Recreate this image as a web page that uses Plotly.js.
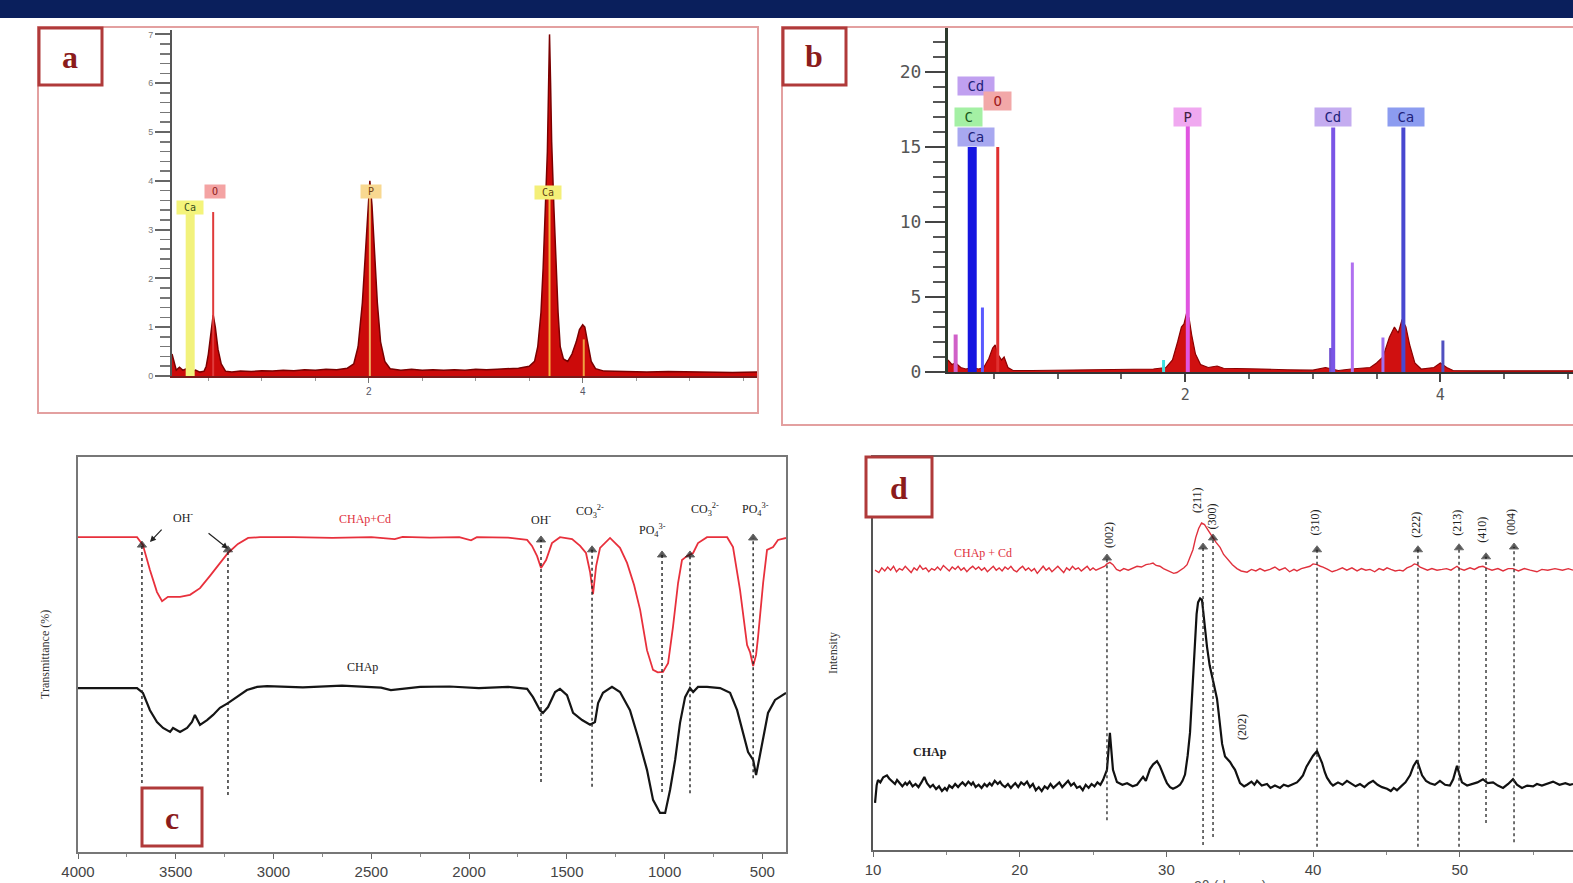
<!DOCTYPE html>
<html><head><meta charset="utf-8">
<script src="https://cdn.plot.ly/plotly-3.0.1.min.js"></script>
<style>html,body{margin:0;padding:0;background:#fff;overflow:hidden}#chart{width:1573px;height:883px}</style>
</head><body><div id="chart"></div>
<script>
const W=1573,H=883;
const fx=p=>p/W, fy=p=>1-p/H;

// ---------- Panel a : EDX of CHAp ----------
const aEnergy=[0.16,0.18,0.20,0.23,0.26,0.30,0.34,0.38,0.42,0.46,0.48,0.50,0.52,0.545,0.565,0.59,0.62,0.66,0.72,0.8,0.9,1.0,1.1,1.2,1.3,1.4,1.5,1.6,1.7,1.8,1.86,1.9,1.94,1.97,1.99,2.01,2.03,2.05,2.08,2.11,2.15,2.2,2.3,2.4,2.5,2.6,2.7,2.8,2.9,3.0,3.1,3.2,3.3,3.4,3.5,3.55,3.58,3.61,3.63,3.65,3.67,3.68,3.69,3.70,3.71,3.73,3.75,3.77,3.79,3.82,3.86,3.9,3.94,3.97,4.0,4.02,4.05,4.08,4.12,4.2,4.4,4.6,4.8,5.0,5.2,5.4,5.63];
const aCounts=[0.45,0.3,0.12,0.18,0.12,0.15,0.08,0.12,0.08,0.1,0.2,0.45,0.85,1.25,1.0,0.55,0.25,0.1,0.08,0.1,0.09,0.11,0.1,0.12,0.11,0.13,0.12,0.14,0.13,0.16,0.25,0.6,1.5,2.6,3.4,4.0,3.5,2.6,1.5,0.7,0.3,0.15,0.12,0.14,0.12,0.13,0.12,0.13,0.12,0.14,0.13,0.14,0.15,0.16,0.2,0.3,0.6,1.3,2.2,3.3,4.6,5.8,7.0,6.0,4.8,3.5,2.3,1.3,0.6,0.35,0.3,0.45,0.7,0.95,1.05,1.0,0.65,0.3,0.15,0.1,0.09,0.08,0.09,0.08,0.08,0.07,0.08];
const aMarkEnergy=[0.33,0.545,2.01,3.69,4.01];
const aMarkCounts=[3.36,3.36,3.8,3.75,0.75];
const aLabelText=['Ca','O','P','Ca'];
const aLabelEnergy=[0.33,0.56,2.02,3.68];
const aLabelCounts=[3.46,3.79,3.79,3.77];

// ---------- Panel b : EDX of CHAp+Cd ----------
const bEnergy=[0.14,0.17,0.2,0.24,0.28,0.33,0.38,0.42,0.46,0.49,0.51,0.53,0.56,0.58,0.61,0.65,0.8,1.0,1.2,1.4,1.6,1.75,1.85,1.9,1.94,1.97,1.99,2.01,2.03,2.05,2.08,2.12,2.18,2.25,2.3,2.45,2.6,2.8,3.0,3.1,3.2,3.3,3.45,3.5,3.55,3.6,3.64,3.67,3.7,3.73,3.76,3.8,3.85,3.95,4.0,4.05,4.1,4.3,5.04];
const bCounts=[0.8,0.5,0.6,0.3,0.2,0.3,0.2,0.3,0.9,1.6,1.8,1.2,0.8,1.0,0.3,0.1,0.1,0.12,0.15,0.2,0.18,0.2,0.3,0.8,2.0,3.0,3.2,3.9,3.6,2.5,1.2,0.5,0.3,0.4,0.25,0.25,0.2,0.15,0.12,0.3,0.1,0.2,0.3,0.6,1.0,2.3,3.0,2.6,3.5,3.0,1.8,0.6,0.2,0.3,0.6,0.3,0.1,0.08,0.08];
const bLineEnergy=[0.2,0.33,0.41,0.53,1.83,2.02,3.14,3.16,3.31,3.55,3.71,4.02];
const bLineHeight=[2.5,15,4.3,15,0.8,16.5,1.6,16.3,7.3,2.3,16.3,2.1];
const bLabelText=['Cd','O','C','Ca','P','Cd','Ca'];
const bLabelEnergy=[0.36,0.53,0.3,0.36,2.02,3.16,3.73];
const bLabelCounts=[19.1,18.1,17.0,15.7,17.0,17.0,17.0];

// ---------- Panel c : FTIR ----------
const cRedWave=[4000,3698,3668,3632,3596,3570,3540,3478,3427,3376,3325,3274,3233,3182,3130,3069,2900,2700,2500,2380,2340,2200,2050,1990,1960,1800,1703,1678,1652,1632,1606,1576,1535,1473,1432,1402,1381,1366,1350,1330,1279,1228,1192,1156,1125,1090,1059,1035,1008,982,957,931,911,886,854,829,783,680,650,614,578,563,547,532,522,496,476,445,420,379];
const cRedT=[79.7,79.7,77.7,71.4,65.8,63.5,64.6,64.6,65.1,66.8,69.9,73.2,75.7,78.0,79.5,79.7,79.7,79.5,79.7,79.2,79.8,79.6,79.7,78.9,79.7,79.6,79.0,77.5,74.9,71.9,73.9,78.2,79.7,79.2,77.5,75.7,70.9,65.3,72.4,77.0,79.5,77.0,73.2,67.6,61.3,51.1,46.1,45.5,45.6,47.8,57.0,68.1,73.9,74.9,75.7,78.2,79.7,79.7,77.2,66.3,52.4,50.6,47.1,49.9,54.4,68.1,76.5,77.2,79.0,79.5];
const cBlackWave=[4000,3698,3668,3632,3596,3565,3529,3514,3478,3442,3417,3402,3376,3340,3309,3274,3233,3187,3136,3084,3033,2850,2650,2450,2400,2250,2100,1950,1800,1703,1673,1637,1622,1596,1560,1535,1499,1468,1422,1381,1356,1340,1315,1269,1228,1177,1136,1090,1059,1023,997,972,946,921,895,870,854,829,783,716,665,629,599,573,547,532,517,496,471,435,399,379];
const cBlackT=[41.5,41.5,40.3,35.9,32.9,31.4,30.4,31.4,30.4,31.4,32.9,34.7,32.2,33.4,34.7,36.5,37.7,39.2,41.0,41.8,42.0,41.7,42.1,41.6,41.0,41.8,41.9,41.5,41.8,41.3,39.2,35.9,35.2,36.7,40.5,41.3,39.7,35.2,33.4,32.2,32.9,37.7,40.3,41.8,40.5,35.9,29.1,20.8,13.2,9.9,9.9,15.7,23.3,32.7,39.2,41.5,40.5,41.8,41.8,41.5,40.3,35.9,30.1,25.3,23.3,19.5,23.3,29.1,35.2,38.5,39.7,40.3];
const cBandWave=[3673,3233,1632,1371,1013,870,547];
const cBandTop=[77.7,76.5,79.0,76.5,75.2,75.2,79.5];
const cBandBottom=[17.5,14.4,17.7,16.5,15.2,14.9,18.7];
const cLabelText=['OH<sup>-</sup>','OH<sup>-</sup>','CO<sub>3</sub><sup>2-</sup>','PO<sub>4</sub><sup>3-</sup>','CO<sub>3</sub><sup>2-</sup>','PO<sub>4</sub><sup>3-</sup>'];
const cLabelWave=[3463,1632,1381,1064,793,537];
const cLabelT=[84.8,84.3,86.1,81.5,86.6,86.6];

// ---------- Panel d : XRD ----------
const dBlackTheta=[10.14,10.25,10.34,10.5,10.7,10.95,11.1,11.3,11.5,11.64,11.8,12.0,12.2,12.32,12.5,12.7,12.9,13.1,13.3,13.5,13.68,13.9,14.09,14.3,14.5,14.7,14.9,15.04,15.2,15.4,15.6,15.8,15.93,16.1,16.3,16.5,16.7,16.82,17.0,17.2,17.4,17.6,17.77,17.95,18.1,18.3,18.5,18.66,18.8,19.0,19.2,19.4,19.54,19.7,19.9,20.1,20.3,20.5,20.7,20.9,21.1,21.3,21.5,21.7,21.9,22.1,22.3,22.5,22.7,22.9,23.1,23.3,23.5,23.7,23.9,24.1,24.3,24.5,24.7,24.9,25.1,25.3,25.5,25.68,25.95,26.15,26.36,26.63,27.0,27.32,27.7,28.0,28.2,28.41,28.6,28.88,29.1,29.36,29.55,29.7,29.9,30.04,30.25,30.45,30.7,30.93,31.1,31.27,31.45,31.61,31.8,31.95,32.06,32.16,32.3,32.43,32.57,32.77,32.95,33.11,33.3,33.45,33.56,33.66,33.8,34.0,34.17,34.34,34.5,34.68,35.02,35.3,35.5,35.8,36.0,36.18,36.5,36.86,37.1,37.4,37.75,38.0,38.3,38.63,38.9,39.1,39.31,39.55,39.79,40.0,40.27,40.45,40.61,40.8,40.95,41.2,41.36,41.7,42.0,42.31,42.6,42.9,43.2,43.5,43.8,44.09,44.4,44.7,45.04,45.3,45.5,45.72,46.0,46.3,46.61,46.85,47.09,47.3,47.43,47.7,47.97,48.3,48.65,49.0,49.33,49.55,49.81,50.0,50.15,50.5,50.9,51.2,51.58,51.9,52.27,52.6,52.95,53.3,53.63,53.9,54.24,54.6,55.0,55.26,55.6,56.0,56.36,56.8,57.2,57.51,57.72];
const dBlackI=[120,165,178,172,185,190,182,176,168,178,170,162,171,166,174,162,168,160,172,186,170,160,166,155,162,150,158,152,164,158,168,160,166,172,164,174,166,172,160,166,158,168,162,170,164,176,168,174,166,160,168,158,164,170,160,172,166,174,160,168,152,160,150,162,156,168,158,164,172,160,168,176,164,170,158,162,152,166,158,168,162,172,166,178,204,298,204,173,166,170,162,166,176,186,176,206,218,226,214,202,182,170,160,156,160,166,176,192,240,298,430,542,600,630,640,636,580,517,470,440,410,385,350,313,270,238,232,224,214,204,170,162,166,174,166,176,164,168,158,164,158,166,162,168,172,180,190,212,228,240,252,238,222,198,184,170,164,172,166,176,168,162,168,160,170,176,166,160,156,150,158,152,162,172,190,214,228,206,190,176,170,166,176,166,164,180,214,190,172,164,168,172,180,170,172,164,158,168,180,166,158,164,162,168,164,170,174,166,170,166,168];
const dRedTheta=[10.14,10.4,10.6,10.8,11.0,11.2,11.4,11.6,11.8,12.0,12.2,12.4,12.6,12.8,13.0,13.2,13.4,13.6,13.8,14.0,14.2,14.4,14.6,14.8,15.0,15.2,15.4,15.6,15.8,16.0,16.2,16.4,16.6,16.8,17.0,17.2,17.4,17.6,17.8,18.0,18.2,18.4,18.6,18.8,19.0,19.2,19.4,19.6,19.8,20.0,20.2,20.4,20.6,20.8,21.0,21.2,21.4,21.6,21.8,22.0,22.2,22.4,22.6,22.8,23.0,23.2,23.4,23.6,23.8,24.0,24.2,24.4,24.6,24.8,25.0,25.2,25.5,25.8,25.95,26.15,26.36,26.6,26.84,27.1,27.4,27.72,28.0,28.3,28.61,28.9,29.09,29.3,29.56,29.8,30.04,30.3,30.5,30.72,31.0,31.2,31.41,31.6,31.81,32.0,32.2,32.4,32.6,32.84,33.0,33.18,33.4,33.66,33.9,34.2,34.5,34.81,35.1,35.5,35.8,36.1,36.38,36.7,37.06,37.4,37.7,38.09,38.4,38.7,38.9,39.2,39.5,39.79,40.0,40.27,40.5,40.68,41.0,41.3,41.63,42.0,42.3,42.65,43.0,43.3,43.6,43.88,44.2,44.5,44.8,45.04,45.3,45.6,45.9,46.13,46.4,46.7,46.9,47.09,47.3,47.5,47.8,48.1,48.45,48.8,49.1,49.4,49.6,49.81,50.0,50.3,50.7,51.0,51.3,51.58,51.9,52.2,52.6,52.95,53.3,53.63,54.0,54.4,54.8,55.26,55.6,56.0,56.49,57.0,57.4,57.72];
const dRedI=[712,706,718,710,720,712,722,708,716,712,722,714,706,718,712,724,714,718,708,716,712,720,712,724,716,710,720,714,722,712,718,708,716,722,714,720,712,718,708,716,722,712,718,710,720,714,722,712,708,716,722,712,718,710,716,704,714,722,712,718,708,716,722,714,706,718,712,722,714,718,710,716,722,712,718,712,718,722,728,732,726,714,710,716,712,718,722,720,726,728,730,724,722,716,712,706,704,706,712,718,726,742,764,795,818,832,828,814,806,794,782,770,752,738,726,716,710,707,714,710,716,710,714,720,712,718,708,714,710,716,720,722,728,726,722,720,714,708,712,718,712,718,710,716,712,714,708,716,712,718,714,710,712,710,718,722,728,726,720,716,712,716,712,714,716,712,718,722,716,712,718,714,720,722,716,712,716,710,716,716,710,716,712,708,714,712,716,712,716,712];
const dPeakLabel=['(002)','(211)','(300)','(310)','(222)','(213)','(410)','(004)'];
const dPeakTheta=[25.95,32.50,33.18,40.27,47.15,49.95,51.79,53.70];
const dLineTop=[743,771,794,764,764,769,746,771];
const dLineBottom=[76,13,33,8,8,8,69,20];
const dLabelTheta=[26.1,32.1,33.1,40.1,47.0,49.8,51.5,53.5];
const dLabelI=[802,891,848,832,827,832,814,835];

// ---------- styles ----------
const aMarkStyle=[{c:'#f2f27c',w:9},{c:'#e03a3a',w:2},{c:'#f0b060',w:2},{c:'#f7b340',w:2},{c:'#f0a040',w:2}];
const aLabelBg=['#f4f47a','#f4a3a3','#f8d890','#f4ef78'];
const aLabelFg=['#3a5020','#902020','#704010','#604010'];
const bLineStyle=[{c:'#d060c8',w:4},{c:'#1515e0',w:9},{c:'#5a5aff',w:3},{c:'#e03030',w:3},{c:'#40e0e0',w:3},{c:'#e055e0',w:4},{c:'#7050d0',w:3},{c:'#7a55e6',w:4},{c:'#b070f0',w:3},{c:'#a070f0',w:3},{c:'#4848d0',w:4},{c:'#5050c0',w:3}];
const bLabelBg=['#c0a0f0','#f2a8a8','#a4f0a4','#a8a8f0','#f0a8f0','#c4acf0','#8c9cf0'];
const bLabelFg=['#22227a','#a02020','#1a5a1a','#22227a','#402040','#22227a','#22227a'];
const SERIF='Liberation Serif, Times New Roman, serif';
const SANS='Liberation Sans, Arial, sans-serif';
const NB='\u00a0';

const traces=[];
// panel a
traces.push({x:aEnergy,y:aCounts,xaxis:'x',yaxis:'y',mode:'lines',fill:'tozeroy',fillcolor:'#cc0a0a',line:{color:'#7a0000',width:1.5}});
aMarkEnergy.forEach((e,i)=>traces.push({x:[e,e],y:[0,aMarkCounts[i]],xaxis:'x',yaxis:'y',mode:'lines',line:{color:aMarkStyle[i].c,width:aMarkStyle[i].w}}));
// panel b
traces.push({x:bEnergy,y:bCounts,xaxis:'x2',yaxis:'y2',mode:'lines',fill:'tozeroy',fillcolor:'#d01010',line:{color:'#8b0000',width:1.2}});
bLineEnergy.forEach((e,i)=>traces.push({x:[e,e],y:[0,bLineHeight[i]],xaxis:'x2',yaxis:'y2',mode:'lines',line:{color:bLineStyle[i].c,width:bLineStyle[i].w}}));
// panel c
traces.push({x:cRedWave,y:cRedT,xaxis:'x3',yaxis:'y3',mode:'lines',line:{color:'#e8303c',width:1.8}});
traces.push({x:cBlackWave,y:cBlackT,xaxis:'x3',yaxis:'y3',mode:'lines',line:{color:'#151515',width:2.2}});
cBandWave.forEach((w,i)=>traces.push({x:[w,w],y:[cBandBottom[i],cBandTop[i]],xaxis:'x3',yaxis:'y3',mode:'lines+markers',line:{color:'#222',width:1.4,dash:'dot'},marker:{symbol:'triangle-up',size:[0,8],color:'#111'}}));
// panel d
traces.push({x:dRedTheta,y:dRedI,xaxis:'x4',yaxis:'y4',mode:'lines',line:{color:'#e0303c',width:1.4}});
traces.push({x:dBlackTheta,y:dBlackI,xaxis:'x4',yaxis:'y4',mode:'lines',line:{color:'#111',width:2.2}});
dPeakTheta.forEach((t,i)=>traces.push({x:[t,t],y:[dLineBottom[i],dLineTop[i]],xaxis:'x4',yaxis:'y4',mode:'lines+markers',line:{color:'#333',width:1.4,dash:'dot'},marker:{symbol:'triangle-up',size:[0,8],color:'#111'}}));

const ann=[];
aLabelText.forEach((t,i)=>ann.push({x:aLabelEnergy[i],y:aLabelCounts[i],xref:'x',yref:'y',text:NB+t+NB,showarrow:false,bgcolor:aLabelBg[i],font:{family:'DejaVu Sans Mono',size:10,color:aLabelFg[i]},borderpad:1}));
bLabelText.forEach((t,i)=>ann.push({x:bLabelEnergy[i],y:bLabelCounts[i],xref:'x2',yref:'y2',text:NB+t+NB,showarrow:false,bgcolor:bLabelBg[i],font:{family:'DejaVu Sans Mono',size:14,color:bLabelFg[i]},borderpad:1}));
cLabelText.forEach((t,i)=>ann.push({x:cLabelWave[i],y:cLabelT[i],xref:'x3',yref:'y3',text:t,showarrow:false,font:{family:SERIF,size:12,color:'#222'}}));
ann.push({x:2532,y:84.3,xref:'x3',yref:'y3',text:'CHAp+Cd',showarrow:false,font:{family:SERIF,size:12,color:'#e0303c'}});
ann.push({x:2547,y:46.8,xref:'x3',yref:'y3',text:'CHAp',showarrow:false,font:{family:SERIF,size:12,color:'#222'}});
ann.push({x:3632,y:78.5,ax:3565,ay:82,xref:'x3',yref:'y3',axref:'x3',ayref:'y3',text:'',showarrow:true,arrowhead:2,arrowsize:1,arrowwidth:1.2,arrowcolor:'#222'});
ann.push({x:3233,y:76.8,ax:3340,ay:81,xref:'x3',yref:'y3',axref:'x3',ayref:'y3',text:'',showarrow:true,arrowhead:2,arrowsize:1,arrowwidth:1.2,arrowcolor:'#222'});
dPeakLabel.forEach((t,i)=>ann.push({x:dLabelTheta[i],y:dLabelI[i],xref:'x4',yref:'y4',text:t,textangle:-90,showarrow:false,font:{family:SERIF,size:12,color:'#222'}}));
ann.push({x:35.15,y:313,xref:'x4',yref:'y4',text:'(202)',textangle:-90,showarrow:false,font:{family:SERIF,size:12,color:'#222'}});
ann.push({x:17.5,y:756,xref:'x4',yref:'y4',text:'CHAp + Cd',showarrow:false,font:{family:SERIF,size:12,color:'#e0303c'}});
ann.push({x:13.9,y:249,xref:'x4',yref:'y4',text:'<b>CHAp</b>',showarrow:false,font:{family:SERIF,size:12,color:'#222'}});
// axis titles
ann.push({x:fx(45),y:fy(655),xref:'paper',yref:'paper',xanchor:'center',yanchor:'middle',text:'Transmittance (%)',textangle:-90,showarrow:false,font:{family:SERIF,size:12,color:'#333'}});
ann.push({x:fx(833),y:fy(653),xref:'paper',yref:'paper',xanchor:'center',yanchor:'middle',text:'Intensity',textangle:-90,showarrow:false,font:{family:SERIF,size:12,color:'#333'}});
ann.push({x:fx(1230),y:fy(886),xref:'paper',yref:'paper',xanchor:'center',yanchor:'middle',text:'2θ (degree)',showarrow:false,font:{family:SANS,size:14,color:'#555'}});
// panel letters
[['a',70,57],['b',814,56],['c',172,818],['d',899,488]].forEach(([t,x,y])=>ann.push({x:fx(x),y:fy(y),xref:'paper',yref:'paper',xanchor:'center',yanchor:'middle',text:'<b>'+t+'</b>',showarrow:false,font:{family:SERIF,size:32,color:'#8b1c1c'}}));

const rect=(x0,y0,x1,y1,o)=>Object.assign({type:'rect',xref:'paper',yref:'paper',x0:fx(x0),x1:fx(x1),y0:fy(y1),y1:fy(y0),layer:'above'},o);
const shapes=[
  rect(0,0,1573,18,{fillcolor:'#0a1f5c',line:{width:0}}),
  rect(38,27,758,413,{line:{color:'#e3a0a0',width:2}}),
  rect(782,27,1590,425,{line:{color:'#e3a0a0',width:2}}),
  rect(39,28,102,85,{fillcolor:'#fff',line:{color:'#b03a3a',width:3}}),
  rect(783,28,846,85,{fillcolor:'#fff',line:{color:'#b03a3a',width:3}}),
  rect(142,788,202,846,{fillcolor:'#fff',line:{color:'#b03a3a',width:3}}),
  rect(866,457,932,517,{fillcolor:'#fff',line:{color:'#b03a3a',width:3}})
];

const common={showgrid:false,zeroline:false,fixedrange:true};
const layout={
  width:W,height:H,margin:{l:0,r:0,t:0,b:0},paper_bgcolor:'#fff',plot_bgcolor:'#fff',showlegend:false,hovermode:false,
  xaxis:Object.assign({},common,{domain:[fx(172),fx(757)],range:[0.16,5.63],anchor:'y',tick0:0,dtick:2,ticks:'outside',ticklen:5,tickcolor:'#777',showline:true,linecolor:'#7a1a1a',linewidth:2,tickfont:{family:SANS,size:10,color:'#556'},minor:{ticks:'outside',dtick:0.5,ticklen:3,tickcolor:'#999'}}),
  yaxis:Object.assign({},common,{domain:[fy(376),fy(30)],range:[0,7.09],anchor:'x',dtick:1,ticks:'outside',ticklen:15,tickwidth:2,tickcolor:'#666',showline:true,linecolor:'#555',linewidth:2,tickfont:{family:SANS,size:9,color:'#777'},minor:{ticks:'outside',dtick:0.2,ticklen:10,tickcolor:'#777',tickwidth:1.5}}),
  xaxis2:Object.assign({},common,{domain:[fx(948),1],range:[0.14,5.04],anchor:'y2',tick0:0,dtick:2,ticks:'outside',ticklen:8,tickcolor:'#444',tickwidth:2,showline:true,linecolor:'#333',linewidth:2,tickfont:{family:'DejaVu Sans Mono',size:15,color:'#555'},minor:{ticks:'outside',dtick:0.5,ticklen:5,tickcolor:'#666'}}),
  yaxis2:Object.assign({},common,{domain:[fy(372),fy(27)],range:[0,23],anchor:'x2',dtick:5,ticks:'outside',ticklen:20,tickwidth:2,tickcolor:'#444',showline:true,linecolor:'#2d3a2d',linewidth:3,tickfont:{family:'DejaVu Sans Mono',size:18,color:'#555'},minor:{ticks:'outside',dtick:1,ticklen:12,tickcolor:'#555',tickwidth:2}}),
  xaxis3:Object.assign({},common,{domain:[fx(78),fx(786)],range:[4000,379],anchor:'y3',dtick:500,ticks:'outside',ticklen:5,tickcolor:'#666',showline:true,mirror:true,linecolor:'#777',linewidth:2,tickfont:{family:SANS,size:15,color:'#444'},minor:{ticks:'outside',dtick:250,ticklen:3,tickcolor:'#888'}}),
  yaxis3:Object.assign({},common,{domain:[fy(852),fy(457)],range:[0,100],anchor:'x3',showticklabels:false,ticks:'',showline:true,mirror:true,linecolor:'#777',linewidth:2}),
  xaxis4:Object.assign({},common,{domain:[fx(873),1],range:[10,57.72],anchor:'y4',dtick:10,ticks:'outside',ticklen:5,tickcolor:'#666',showline:true,mirror:true,linecolor:'#666',linewidth:2,tickfont:{family:SANS,size:15,color:'#444'},minor:{ticks:'outside',dtick:5,ticklen:3,tickcolor:'#888'}}),
  yaxis4:Object.assign({},common,{domain:[fy(850),fy(457)],range:[0,1000],anchor:'x4',showticklabels:false,ticks:'',showline:true,linecolor:'#555',linewidth:2}),
  annotations:ann,shapes:shapes
};
traces.forEach(t=>{t.showlegend=false;t.hoverinfo='skip';});
Plotly.newPlot('chart',traces,layout,{staticPlot:true,displayModeBar:false});
</script></body></html>
